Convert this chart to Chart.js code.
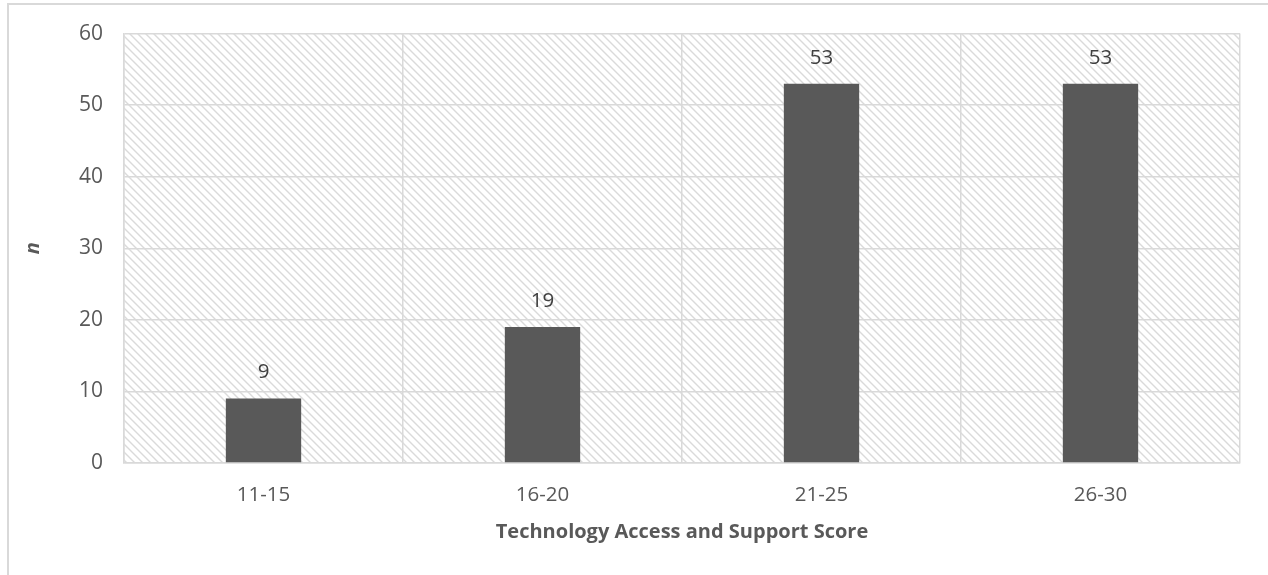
<!DOCTYPE html>
<html lang="en">
<head>
    <meta charset="UTF-8">
    <title>Technology Access and Support Score</title>
    <script src="https://cdn.jsdelivr.net/npm/chart.js"></script>
    <style>
        body {
            margin: 0;
            padding: 0;
            background: #fff;
            font-family: "Open Sans", sans-serif;
        }
        .frame {
            position: absolute;
            left: 7px;
            top: 3px;
            width: 1300px;
            height: 600px;
            border: 2px solid #d9d9d9;
            box-sizing: border-box;
        }
        .wrap {
            position: absolute;
            left: 0;
            top: 0;
            width: 1268px;
            height: 575px;
        }
    </style>
</head>
<body>
    <div class="frame"></div>
    <div class="wrap">
        <canvas id="myChart"></canvas>
    </div>
    <script>
        const categories = ['11-15', '16-20', '21-25', '26-30'];
        const counts = [9, 19, 53, 53];
        const yTicks = [0, 10, 20, 30, 40, 50, 60];

        // diagonal hatch behind the plot
        function makeHatch(ctx) {
            const tile = document.createElement('canvas');
            tile.width = 8;
            tile.height = 8;
            const t = tile.getContext('2d');
            t.strokeStyle = '#dadada';
            t.lineWidth = 1.4;
            t.beginPath();
            t.moveTo(-2, -2); t.lineTo(10, 10);
            t.moveTo(-2, 6); t.lineTo(2, 10);
            t.moveTo(6, -2); t.lineTo(10, 2);
            t.stroke();
            return ctx.createPattern(tile, 'repeat');
        }

        const hatchPlugin = {
            id: 'hatch',
            beforeDraw(chart) {
                const {ctx, chartArea: a} = chart;
                ctx.save();
                ctx.fillStyle = makeHatch(ctx);
                ctx.fillRect(a.left, a.top, a.right - a.left, a.bottom - a.top);
                ctx.restore();
            }
        };

        const valueLabels = {
            id: 'valueLabels',
            afterDatasetsDraw(chart) {
                const {ctx} = chart;
                const meta = chart.getDatasetMeta(0);
                ctx.save();
                ctx.font = '20.5px "Open Sans"';
                ctx.fillStyle = '#404040';
                ctx.textAlign = 'center';
                ctx.textBaseline = 'middle';
                meta.data.forEach((bar, i) => {
                    ctx.fillText(counts[i], bar.x, bar.y - 26);
                });
                ctx.restore();
            }
        };

        const ctx = document.getElementById('myChart').getContext('2d');
        new Chart(ctx, {
            type: 'bar',
            data: {
                labels: categories,
                datasets: [{
                    data: counts,
                    backgroundColor: '#595959',
                    categoryPercentage: 1,
                    barPercentage: 0.27
                }]
            },
            options: {
                responsive: true,
                maintainAspectRatio: false,
                animation: false,
                layout: {padding: {left: 0, right: 28, top: 33, bottom: 0}},
                plugins: {
                    legend: {display: false},
                    tooltip: {enabled: false}
                },
                scales: {
                    x: {
                        grid: {color: '#d9d9d9', lineWidth: 1.5, drawTicks: false, offset: true},
                        border: {color: '#d9d9d9', width: 1.5},
                        ticks: {color: '#595959', font: {family: 'Open Sans', size: 20.5}, padding: 20},
                        title: {
                            display: true,
                            text: 'Technology Access and Support Score',
                            color: '#595959',
                            font: {family: 'Open Sans', size: 20, weight: 'bold'},
                            padding: {top: 14, bottom: 31}
                        },
                        afterFit(scale) { scale.height = 575 - 463; }
                    },
                    y: {
                        min: 0,
                        max: 60,
                        afterBuildTicks(scale) { scale.ticks = yTicks.map(v => ({value: v})); },
                        grid: {color: '#d9d9d9', lineWidth: 1.5, drawTicks: false},
                        border: {color: '#d9d9d9', width: 1.5},
                        ticks: {color: '#595959', font: {family: 'Open Sans', size: 21}, padding: 21},
                        title: {
                            display: true,
                            text: 'n',
                            color: '#595959',
                            font: {family: 'Open Sans', size: 20, weight: 'bold', style: 'italic'},
                            padding: {top: 21, bottom: 0}
                        },
                        afterFit(scale) { scale.width = 124; }
                    }
                }
            },
            plugins: [hatchPlugin, valueLabels]
        });
    </script>
</body>
</html>
